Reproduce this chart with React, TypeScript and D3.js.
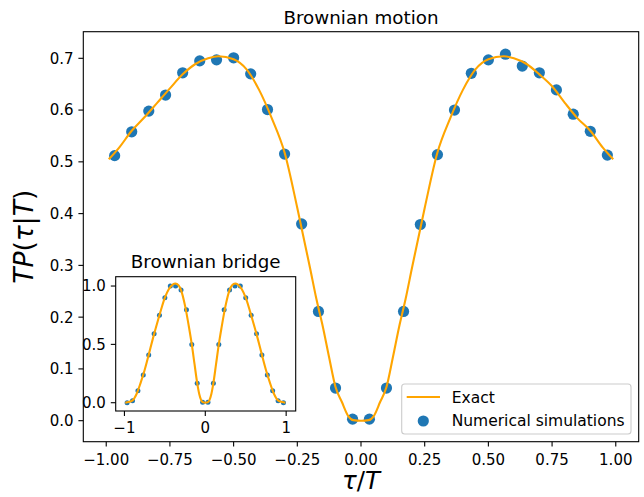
import * as d3 from 'd3';

// ── Main panel: Brownian motion ─────────────────────────
const simX = [
  -0.967, -0.9, -0.833, -0.767, -0.7, -0.633, -0.567, -0.5, -0.433, -0.367,
  -0.3, -0.233, -0.167, -0.1, -0.033, 0.033, 0.1, 0.167, 0.233, 0.3,
  0.367, 0.433, 0.5, 0.567, 0.633, 0.7, 0.767, 0.833, 0.9, 0.967,
];
const motionSim = [
  0.512, 0.558, 0.598, 0.629, 0.672, 0.695, 0.697, 0.701, 0.670, 0.601,
  0.515, 0.380, 0.211, 0.063, 0.003, 0.003, 0.063, 0.211, 0.379, 0.514,
  0.600, 0.671, 0.697, 0.708, 0.685, 0.672, 0.639, 0.592, 0.559, 0.513,
];
const motionExactX = [
  -0.99, -0.95, -0.9, -0.85, -0.8, -0.75, -0.7, -0.65, -0.6, -0.56, -0.5, -0.45, -0.4,
  -0.35, -0.3, -0.25, -0.2, -0.175, -0.15, -0.125, -0.1, -0.075, -0.05, -0.03, 0,
  0.03, 0.05, 0.075, 0.1, 0.125, 0.15, 0.175, 0.2, 0.25, 0.3, 0.35, 0.4, 0.45,
  0.5, 0.56, 0.6, 0.65, 0.7, 0.75, 0.8, 0.85, 0.9, 0.95, 0.99,
];
const motionExact = [
  0.505, 0.527, 0.56, 0.586, 0.614, 0.642, 0.669, 0.689, 0.700, 0.704, 0.698, 0.679, 0.639,
  0.584, 0.518, 0.411, 0.295, 0.235, 0.182, 0.122, 0.065, 0.036, 0.009, 0.001, 0,
  0.001, 0.009, 0.036, 0.065, 0.122, 0.182, 0.235, 0.295, 0.411, 0.518, 0.584, 0.639, 0.679,
  0.698, 0.704, 0.700, 0.689, 0.669, 0.646, 0.614, 0.584, 0.56, 0.527, 0.505,
];
const xTicks = [-1, -0.75, -0.5, -0.25, 0, 0.25, 0.5, 0.75, 1];
const yTicks = [0, 0.1, 0.2, 0.3, 0.4, 0.5, 0.6, 0.7];

// ── Inset: Brownian bridge ──────────────────────────────
const bridgeSim = [
  0.0, 0.017, 0.103, 0.237, 0.41, 0.59, 0.75, 0.90, 1.0, 1.0,
  0.966, 0.796, 0.5, 0.166, 0.004, 0.004, 0.166, 0.5, 0.796, 0.966,
  1.0, 1.0, 0.90, 0.75, 0.59, 0.41, 0.237, 0.103, 0.017, 0.0,
];
const bridgeExactX = [
  -0.99, -0.95, -0.9, -0.85, -0.8, -0.75, -0.7, -0.65, -0.6, -0.55, -0.5, -0.45, -0.4,
  -0.37, -0.33, -0.3, -0.25, -0.2, -0.167, -0.133, -0.1, -0.075, -0.05, -0.03, 0,
  0.03, 0.05, 0.075, 0.1, 0.133, 0.167, 0.2, 0.25, 0.3, 0.33, 0.37, 0.4, 0.45,
  0.5, 0.55, 0.6, 0.65, 0.7, 0.75, 0.8, 0.85, 0.9, 0.95, 0.99,
];
const bridgeExact = [
  0, 0.006, 0.02, 0.075, 0.17, 0.28, 0.41, 0.545, 0.67, 0.79, 0.9, 0.975, 1.015,
  1.022, 1.005, 0.965, 0.83, 0.64, 0.5, 0.33, 0.168, 0.075, 0.02, 0.003, 0,
  0.003, 0.02, 0.075, 0.168, 0.33, 0.5, 0.64, 0.83, 0.965, 1.005, 1.022, 1.015, 0.975,
  0.9, 0.79, 0.67, 0.545, 0.41, 0.28, 0.17, 0.075, 0.02, 0.006, 0,
];
const insetXTicks = [-1, 0, 1];
const insetYTicks = [0, 0.5, 1];

const BLUE = '#1f77b4';
const ORANGE = '#ffa500';
const FONT = 'DejaVu Sans, sans-serif';

// axes boxes (pixels)
const M = { left: 83.3, right: 638.7, top: 31.7, bottom: 441.7 };
const I = { left: 115.7, right: 295.7, top: 276.7, bottom: 411 };

export default function App() {
  const x = d3.scaleLinear().domain([-1.09, 1.09]).range([M.left, M.right]);
  const y = d3.scaleLinear().domain([-0.0406, 0.7514]).range([M.bottom, M.top]);
  const ix = d3.scaleLinear().domain([-1.108, 1.118]).range([I.left, I.right]);
  const iy = d3.scaleLinear().domain([-0.071, 1.08]).range([I.bottom, I.top]);

  const line = d3.line<number>()
    .x((_, i) => x(motionExactX[i]))
    .y(d => y(d))
    .curve(d3.curveMonotoneX);
  const iline = d3.line<number>()
    .x((_, i) => ix(bridgeExactX[i]))
    .y(d => iy(d))
    .curve(d3.curveMonotoneX);

  const fmt2 = (v: number) => (v < 0 ? '\u2212' : '') + Math.abs(v).toFixed(2);
  const fmt1 = (v: number) => v.toFixed(1);
  const fmt0 = (v: number) => (v < 0 ? '\u2212' : '') + Math.abs(v).toFixed(0);

  return (
    <div style={{ position: 'absolute', left: 0, top: 0 }}>
      <svg width={644} height={497} style={{ display: 'block', background: '#fff' }} fontFamily={FONT}>
        {/* main title */}
        <text x={(M.left + M.right) / 2} y={23.5} fontSize={18.3} textAnchor="middle">Brownian motion</text>

        {/* main marks */}
        {motionSim.map((v, i) => (
          <circle key={i} cx={x(simX[i])} cy={y(v)} r={5.6} fill={BLUE} />
        ))}
        <path d={line(motionExact) ?? ''} fill="none" stroke={ORANGE} strokeWidth={2.1} />

        {/* main frame */}
        <rect x={M.left} y={M.top} width={M.right - M.left} height={M.bottom - M.top}
          fill="none" stroke="#000" strokeWidth={1.1} />

        {/* x axis */}
        {xTicks.map(t => (
          <g key={t} transform={`translate(${x(t)},${M.bottom})`}>
            <line y2={4.9} stroke="#000" strokeWidth={1.1} />
            <text y={23.5} fontSize={15} textAnchor="middle">{fmt2(t)}</text>
          </g>
        ))}
        {/* y axis */}
        {yTicks.map(t => (
          <g key={t} transform={`translate(${M.left},${y(t)})`}>
            <line x2={-4.9} stroke="#000" strokeWidth={1.1} />
            <text x={-9.8} dy="0.36em" fontSize={15} textAnchor="end">{fmt1(t)}</text>
          </g>
        ))}

        {/* axis labels */}
        <text x={(M.left + M.right) / 2} y={489} fontSize={24.5} textAnchor="middle">
          <tspan fontStyle="italic">τ</tspan><tspan>/</tspan><tspan fontStyle="italic">T</tspan>
        </text>
        <text transform={`translate(33,${(M.top + M.bottom) / 2}) rotate(-90)`} fontSize={26.6} textAnchor="middle">
          <tspan fontStyle="italic">TP</tspan><tspan>(</tspan><tspan fontStyle="italic">τ</tspan>
          <tspan>|</tspan><tspan fontStyle="italic">T</tspan><tspan>)</tspan>
        </text>

        {/* legend */}
        <g>
          <rect x={401.7} y={384} width={229.3} height={50} rx={3} fill="#fff" fillOpacity={0.8}
            stroke="#cccccc" strokeWidth={1.1} />
          <line x1={406.7} x2={440} y1={397} y2={397} stroke={ORANGE} strokeWidth={2.1} />
          <text x={451.7} y={402.7} fontSize={15.5}>Exact</text>
          <circle cx={423.3} cy={421} r={5.6} fill={BLUE} />
          <text x={451.7} y={426} fontSize={15.5}>Numerical simulations</text>
        </g>

        {/* inset */}
        <rect x={I.left} y={I.top} width={I.right - I.left} height={I.bottom - I.top} fill="#fff" />
        <text x={(I.left + I.right) / 2} y={268.3} fontSize={18.3} textAnchor="middle">Brownian bridge</text>
        {bridgeSim.map((v, i) => (
          <circle key={i} cx={ix(simX[i])} cy={iy(v)} r={2.5} fill={BLUE} />
        ))}
        <path d={iline(bridgeExact) ?? ''} fill="none" stroke={ORANGE} strokeWidth={2.1} />
        <rect x={I.left} y={I.top} width={I.right - I.left} height={I.bottom - I.top}
          fill="none" stroke="#000" strokeWidth={1.1} />
        {insetXTicks.map(t => (
          <g key={t} transform={`translate(${ix(t)},${I.bottom})`}>
            <line y2={4.9} stroke="#000" strokeWidth={1.1} />
            <text y={22.3} fontSize={15} textAnchor="middle">{fmt0(t)}</text>
          </g>
        ))}
        {insetYTicks.map(t => (
          <g key={t} transform={`translate(${I.left},${iy(t)})`}>
            <line x2={-4.9} stroke="#000" strokeWidth={1.1} />
            <text x={-9.8} dy="0.36em" fontSize={15} textAnchor="end">{fmt1(t)}</text>
          </g>
        ))}
      </svg>
    </div>
  );
}
